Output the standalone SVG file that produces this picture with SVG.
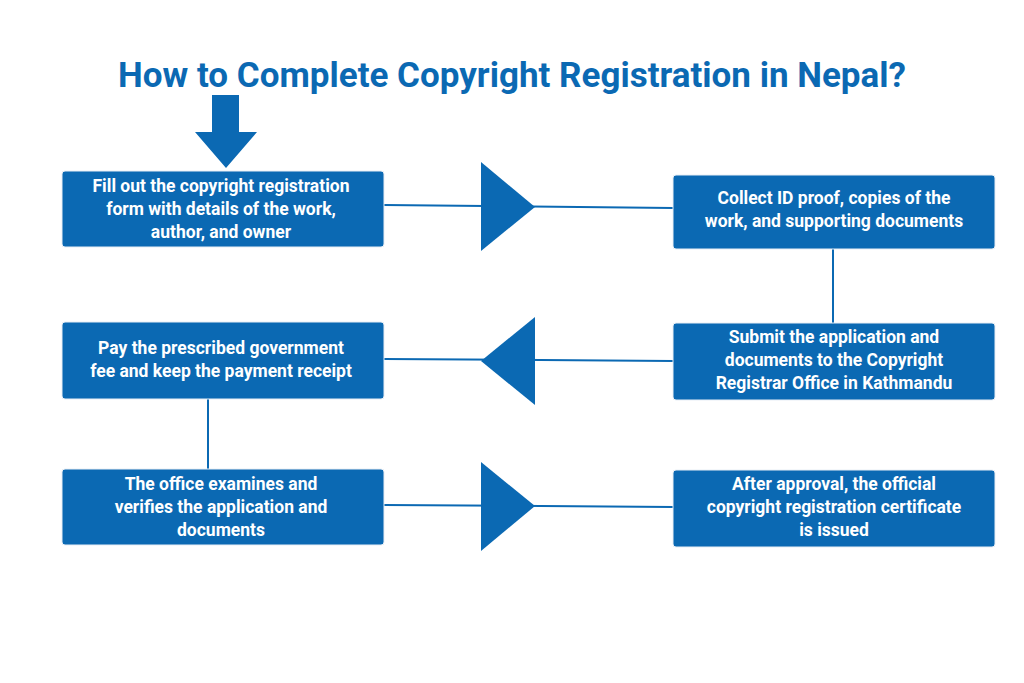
<svg xmlns="http://www.w3.org/2000/svg" width="1024" height="683" viewBox="0 0 1024 683">
<style>
.box{fill:#0b69b3;stroke:#e8eef5;stroke-width:1}
.t{font-family:Roboto,"Liberation Sans",sans-serif;font-weight:bold;font-size:17.5px;fill:#fff;text-anchor:middle}
.ln{stroke:#0b69b3;stroke-width:2;fill:none}
.tri{fill:#0b69b3}
</style>
<rect width="1024" height="683" fill="#fff"/>
<text x="512" y="87" font-family="Roboto,'Liberation Sans',sans-serif" font-weight="bold" font-size="35" fill="#0b69b3" text-anchor="middle">How to Complete Copyright Registration in Nepal?</text>
<polygon points="212,95 239,95 239,132 257,132 226,168 195,132 212,132" fill="#0b69b3"/>
<g id="connectors">
<line class="ln" x1="384" y1="205" x2="673" y2="208"/>
<polygon class="tri" points="481,162 535,207 481,251"/>
<line class="ln" x1="384" y1="359" x2="673" y2="361"/>
<polygon class="tri" points="535,317 481,361 535,405"/>
<line class="ln" x1="384" y1="505" x2="673" y2="507"/>
<polygon class="tri" points="481,462 535,506 481,551"/>
<line class="ln" x1="833" y1="249" x2="833" y2="323"/>
<line class="ln" x1="208" y1="399" x2="208" y2="469"/>
</g>
<g id="n1"><rect class="box" x="62" y="171" width="322" height="76" rx="3"/>
<text class="t" x="221" y="192">Fill out the copyright registration</text>
<text class="t" x="221" y="215">form with details of the work,</text>
<text class="t" x="221" y="238">author, and owner</text></g>
<g id="n2"><rect class="box" x="673" y="175" width="322" height="74" rx="3"/>
<text class="t" x="834" y="204">Collect ID proof, copies of the</text>
<text class="t" x="834" y="227">work, and supporting documents</text></g>
<g id="n3"><rect class="box" x="673" y="323" width="322" height="77" rx="3"/>
<text class="t" x="834" y="343">Submit the application and</text>
<text class="t" x="834" y="366">documents to the Copyright</text>
<text class="t" x="834" y="389">Registrar Office in Kathmandu</text></g>
<g id="n4"><rect class="box" x="62" y="322" width="322" height="77" rx="3"/>
<text class="t" x="221" y="354">Pay the prescribed government</text>
<text class="t" x="221" y="377">fee and keep the payment receipt</text></g>
<g id="n5"><rect class="box" x="62" y="469" width="322" height="76" rx="3"/>
<text class="t" x="221" y="490">The office examines and</text>
<text class="t" x="221" y="513">verifies the application and</text>
<text class="t" x="221" y="536">documents</text></g>
<g id="n6"><rect class="box" x="673" y="470" width="322" height="77" rx="3"/>
<text class="t" x="834" y="490">After approval, the official</text>
<text class="t" x="834" y="513">copyright registration certificate</text>
<text class="t" x="834" y="536">is issued</text></g>
</svg>
